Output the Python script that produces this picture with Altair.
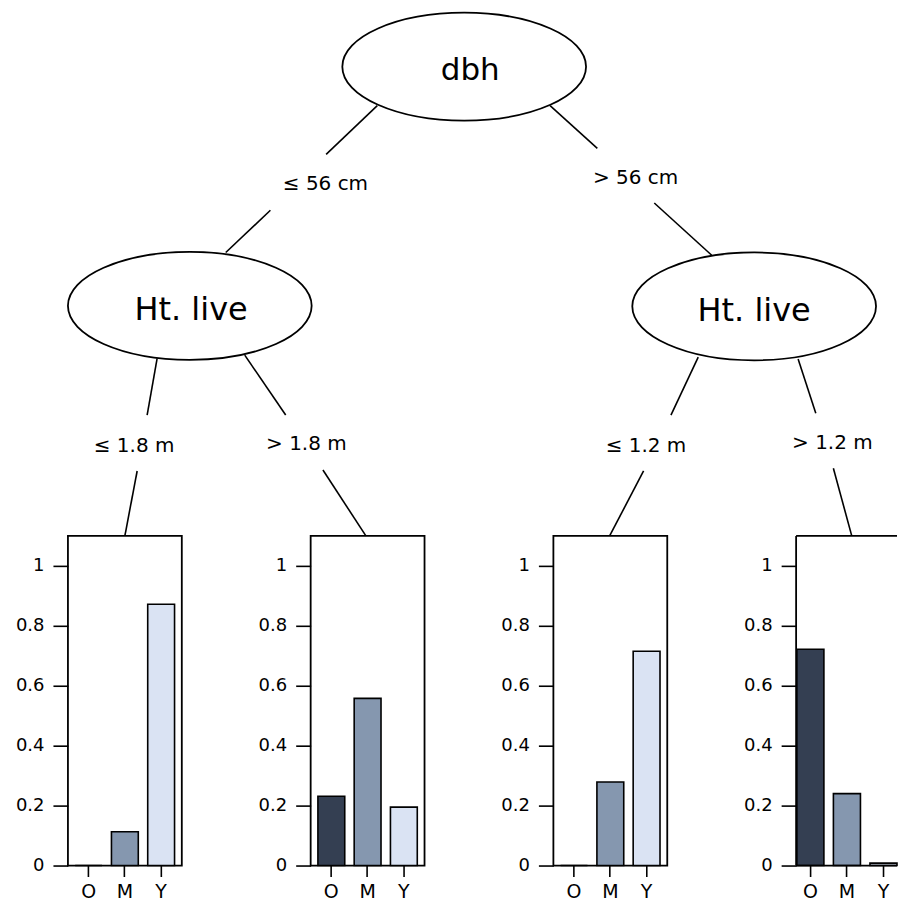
import altair as alt
import pandas as pd

# ---------------- data ----------------
categories = ["O", "M", "Y"]
class_colors = ["#343F52", "#8597AF", "#DAE3F3"]

leaf_le18 = [0.0, 0.113, 0.872]   # dbh <= 56, Ht. live <= 1.8
leaf_gt18 = [0.231, 0.558, 0.195]  # dbh <= 56, Ht. live > 1.8
leaf_le12 = [0.0, 0.279, 0.715]   # dbh > 56, Ht. live <= 1.2
leaf_gt12 = [0.722, 0.240, 0.008]  # dbh > 56, Ht. live > 1.2

node_names = ["dbh", "Ht. live", "Ht. live"]
edge_names = ["≤ 56 cm", "> 56 cm", "≤ 1.8 m", "> 1.8 m", "≤ 1.2 m", "> 1.2 m"]
y_tick_values = [0, 0.2, 0.4, 0.6, 0.8, 1]

# ---------------- layout ----------------
PANEL_W, PANEL_W_LAST, PANEL_GAP, PANEL_H = 114, 101, 129, 330
TREE_W = 3 * PANEL_W + 3 * PANEL_GAP + PANEL_W_LAST
TREE_TOP, TREE_BOTTOM = 3, 528

ELL_A, ELL_B = 122, 54
node_ellipse_x = [396.7, 122.0, 687.0]
node_ellipse_y = [58.2, 297.7, 298.2]
node_text_x = [402.8, 123.3, 687.0]
node_text_y = [62.7, 302.0, 303.0]
node_font = [31, 32, 32]

edge_label_x = [257.8, 568.3, 66.2, 238.7, 578.7, 765.3]
edge_label_y = [175.8, 169.5, 437.5, 436.0, 437.5, 435.0]

seg_x1 = [309.7, 202.7, 482.7, 587.0, 89.3, 69.3, 177.0, 255.3, 631.0, 576.3, 731.0, 766.3]
seg_y1 = [97.3, 202.0, 97.3, 194.7, 350.3, 463.0, 347.0, 462.0, 349.0, 463.0, 351.0, 460.3]
seg_x2 = [258.5, 158.0, 530.0, 644.5, 79.3, 57.0, 218.0, 298.3, 603.7, 542.3, 748.7, 784.7]
seg_y2 = [146.0, 244.3, 140.0, 247.0, 407.0, 528.0, 407.0, 528.0, 407.0, 528.0, 405.3, 528.0]

FONT = "DejaVu Sans"

xs = alt.Scale(domain=[0, TREE_W], nice=False, zero=False)
ys = alt.Scale(domain=[TREE_TOP, TREE_BOTTOM], nice=False, zero=False, reverse=True)

r = ELL_B / ELL_A
ellipse_path = f"M -1 0 A 1 {r:.4f} 0 1 1 1 0 A 1 {r:.4f} 0 1 1 -1 0 Z"

ell_df = pd.DataFrame({"x": node_ellipse_x, "y": node_ellipse_y})
ellipses = alt.Chart(ell_df).mark_point(
    shape=ellipse_path, filled=False, color="black", strokeWidth=1.8,
    opacity=1, size=(2 * ELL_A) ** 2
).encode(x=alt.X("x:Q", scale=xs, axis=None), y=alt.Y("y:Q", scale=ys, axis=None))

node_df = pd.DataFrame({"x": node_text_x, "y": node_text_y, "t": node_names, "fs": node_font})
node_text = alt.Chart(node_df).mark_text(
    font=FONT, align="center", baseline="middle", color="black"
).encode(
    x=alt.X("x:Q", scale=xs, axis=None), y=alt.Y("y:Q", scale=ys, axis=None),
    text="t:N", size=alt.Size("fs:Q", scale=None, legend=None)
)

seg_df = pd.DataFrame({"x": seg_x1, "y": seg_y1, "x2": seg_x2, "y2": seg_y2})
edges = alt.Chart(seg_df).mark_rule(color="black", strokeWidth=1.6).encode(
    x=alt.X("x:Q", scale=xs, axis=None), y=alt.Y("y:Q", scale=ys, axis=None),
    x2="x2:Q", y2="y2:Q"
)

elab_df = pd.DataFrame({"x": edge_label_x, "y": edge_label_y, "t": edge_names})
edge_text = alt.Chart(elab_df).mark_text(
    font=FONT, fontSize=20, align="center", baseline="middle", color="black"
).encode(
    x=alt.X("x:Q", scale=xs, axis=None), y=alt.Y("y:Q", scale=ys, axis=None), text="t:N"
)

tree = alt.layer(edges, ellipses, node_text, edge_text).properties(
    width=TREE_W, height=TREE_BOTTOM - TREE_TOP
)

# ---------------- leaf bar panels ----------------


def y_enc():
    return alt.Y(
        "p:Q",
        scale=alt.Scale(domain=[0, 1.1], nice=False, zero=False),
        axis=alt.Axis(values=y_tick_values, format="~g", title=None, grid=False,
                      domain=False, tickSize=15, tickWidth=1.6, tickColor="black",
                      labelPadding=9, labelFontSize=18, labelFont=FONT, labelColor="black"),
    )


def panel(values, width, pad_outer, align, framed):
    df = pd.DataFrame({"cls": categories, "p": values, "col": class_colors})
    x = alt.X(
        "cls:N", sort=categories,
        scale=alt.Scale(domain=categories, paddingInner=0.26, paddingOuter=pad_outer, align=align),
        axis=alt.Axis(title=None, labelAngle=0, domain=False, tickSize=11, tickWidth=1.6,
                      tickColor="black", labelPadding=6, labelFontSize=19, labelFont=FONT,
                      labelColor="black"),
    )
    bars = alt.Chart(df).mark_bar(stroke="black", strokeWidth=1.6).encode(
        x=x, y=y_enc(), color=alt.Color("col:N", scale=None, legend=None)
    )
    if framed:
        return bars.properties(width=width, height=PANEL_H,
                               view=alt.ViewBackground(stroke="black", strokeWidth=1.8))
    edge_df = pd.DataFrame({"p": [0, 1.1]})
    lines = alt.Chart(edge_df).mark_rule(color="black", strokeWidth=1.8).encode(y=y_enc())
    left = alt.Chart(pd.DataFrame({"p": [0], "p2": [1.1]})).mark_rule(
        color="black", strokeWidth=1.8
    ).encode(x=alt.value(0), y=y_enc(), y2="p2:Q")
    return alt.layer(bars, lines, left).properties(width=width, height=PANEL_H)


# last panel is cut by the right edge of the figure, so its band scale keeps the
# same step but loses part of its right margin
p1 = panel(leaf_le18, PANEL_W, 0.2, 0.5, True)
p2 = panel(leaf_gt18, PANEL_W, 0.2, 0.5, True)
p3 = panel(leaf_le12, PANEL_W, 0.2, 0.5, True)
p4 = panel(leaf_gt12, PANEL_W_LAST, 0.01, 1, False)

bottom = alt.hconcat(p1, p2, p3, p4, spacing=PANEL_GAP, bounds="flush")

chart = alt.vconcat(tree, bottom, spacing=0, bounds="flush").properties(
    padding={"left": 6, "top": 0, "right": 0, "bottom": 0}
).configure_view(stroke="transparent")

chart.save("out.html", embed_options={"renderer": "svg", "actions": False})
